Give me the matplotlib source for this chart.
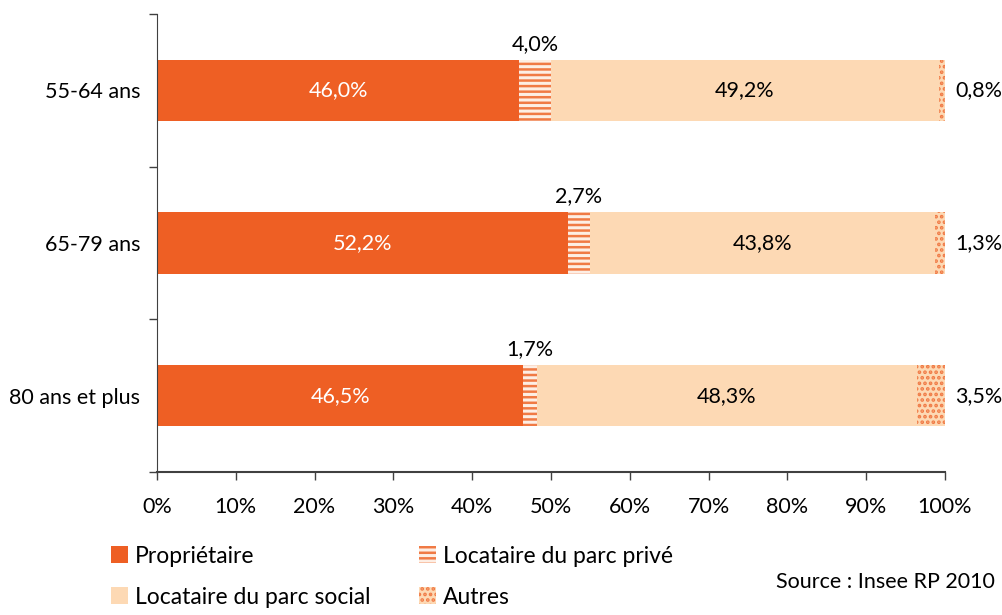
import matplotlib.pyplot as plt
from matplotlib.patches import Patch

# ==================== DATA ====================

groups = ['55-64 ans', '65-79 ans', '80 ans et plus']
proprietaire = [46.0, 52.2, 46.5]
prive = [4.0, 2.7, 1.7]
social = [49.2, 43.8, 48.3]
autres = [0.8, 1.3, 3.5]

series_names = ['Propriétaire', 'Locataire du parc privé',
                'Locataire du parc social', 'Autres']

# ==================== STYLE ====================

plt.rcParams['font.family'] = ['Lato', 'DejaVu Sans']
plt.rcParams['hatch.linewidth'] = 1.8

ORANGE = '#EE5F24'
HATCH_ORANGE = '#F07A45'
PEACH = '#FDD9B4'
PALE = '#FDEEE4'
FS = 15.5


def fmt(v):
    """French style percentage"""
    return f"{v:.1f}".replace('.', ',') + '%'


# ==================== FIGURE ====================

fig = plt.figure(figsize=(10.03, 6.15), dpi=100)
ax = fig.add_axes([0.1565, 0.2325, 0.7856, 0.7447])

y = list(range(len(groups)))
h = 0.4

left = [0.0] * len(groups)
ax.barh(y, proprietaire, height=h, left=left, color=ORANGE, linewidth=0)
left = [l + v for l, v in zip(left, proprietaire)]
ax.barh(y, prive, height=h, left=left, color=PALE,
        edgecolor=HATCH_ORANGE, hatch='---', linewidth=0)
left = [l + v for l, v in zip(left, prive)]
ax.barh(y, social, height=h, left=left, color=PEACH, linewidth=0)
left = [l + v for l, v in zip(left, social)]
ax.barh(y, autres, height=h, left=left, color=PEACH,
        edgecolor=HATCH_ORANGE, hatch='...', linewidth=0)

# value labels
for i in y:
    ax.text(proprietaire[i] / 2, i, fmt(proprietaire[i]), color='white',
            ha='center', va='center', fontsize=FS)
    x_prive = proprietaire[i] + prive[i] / 2
    ax.text(x_prive, i - h / 2 - 0.04, fmt(prive[i]), color='black',
            ha='center', va='bottom', fontsize=FS)
    x_social = proprietaire[i] + prive[i] + social[i] / 2
    ax.text(x_social, i, fmt(social[i]), color='black',
            ha='center', va='center', fontsize=FS)
    ax.text(101.3, i, fmt(autres[i]), color='black',
            ha='left', va='center', fontsize=FS)

# axes
ax.set_xlim(0, 100)
ax.set_ylim(2.5, -0.5)
ax.set_xticks(range(0, 101, 10))
ax.set_xticklabels([f"{t}%" for t in range(0, 101, 10)], fontsize=FS)
ax.set_yticks([-0.5, 0.5, 1.5, 2.5])
ax.set_yticklabels([])
ax.set_yticks(y, minor=True)
ax.set_yticklabels(groups, minor=True, fontsize=FS)
ax.tick_params(axis='y', which='major', length=6, width=1, color='#404040')
ax.tick_params(axis='y', which='minor', length=0, pad=12)
ax.tick_params(axis='x', length=6, width=1, color='#404040', pad=12)
ax.spines['top'].set_visible(False)
ax.spines['right'].set_visible(False)
ax.spines['left'].set_color('#404040')
ax.spines['bottom'].set_color('#404040')
ax.spines['bottom'].set_linewidth(1.5)

# legend
handles = [
    Patch(facecolor=ORANGE, linewidth=0),
    Patch(facecolor=PEACH, linewidth=0),
    Patch(facecolor=PALE, edgecolor=HATCH_ORANGE, hatch='---', linewidth=0),
    Patch(facecolor=PEACH, edgecolor=HATCH_ORANGE, hatch='...', linewidth=0),
]
labels = [series_names[0], series_names[2], series_names[1], series_names[3]]
fig.legend(handles, labels, loc='upper left', bbox_to_anchor=(0.111, 0.113),
           ncol=2, frameon=False, fontsize=16.5, handlelength=0.72,
           handleheight=0.72, handletextpad=0.3, columnspacing=2.15,
           labelspacing=0.88, borderpad=0, borderaxespad=0)

fig.text(0.992, 0.054, 'Source : Insee RP 2010', ha='right', va='center',
         fontsize=FS)

plt.savefig('out.png', dpi=100)
